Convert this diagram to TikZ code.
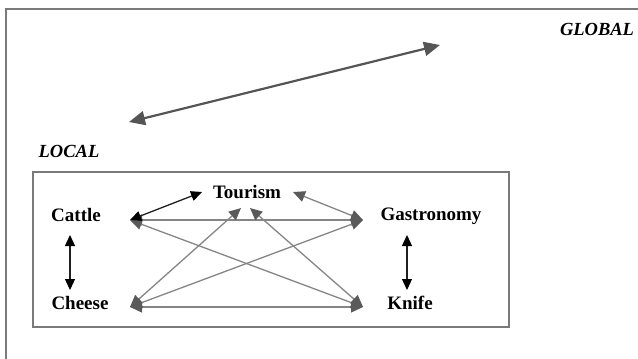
\documentclass[tikz,border=0pt]{standalone}
\usepackage{fontspec}
\setmainfont{Liberation Serif}
\usetikzlibrary{arrows.meta}
\definecolor{framegray}{HTML}{7A7A7A}
\definecolor{linegray}{HTML}{858585}
\definecolor{headgray}{HTML}{5A5A5A}
\definecolor{darkline}{HTML}{202020}
\definecolor{globalgray}{HTML}{555555}
\tikzset{
  frameline/.style={draw=framegray, line width=1.2pt},
  lbl/.style={font=\fontsize{19}{22}\selectfont\bfseries, anchor=base, inner sep=0pt},
  scopelbl/.style={font=\fontsize{18.5}{22}\selectfont\bfseries\itshape, anchor=base, inner sep=0pt},
  grayarrow/.style={draw=linegray, line width=1.3pt,
    {Triangle[length=12pt,width=11pt,color=headgray]}-{Triangle[length=12pt,width=11pt,color=headgray]}},
  blackarrow/.style={draw=darkline, line width=1.3pt,
    {Triangle[length=11pt,width=10pt,color=black]}-{Triangle[length=11pt,width=10pt,color=black]}},
  globalarrow/.style={draw=globalgray, line width=2.2pt,
    {Triangle[length=16pt,width=14pt]}-{Triangle[length=16pt,width=14pt]}}
}
\begin{document}
\begin{tikzpicture}[x=1pt,y=-1pt]
\useasboundingbox (0,0) rectangle (638,359);
% frames
\draw[frameline] (6,359) -- (6,9) -- (638,9);
\draw[frameline] (33,172) rectangle (509,327);
% scope labels
\node[scopelbl] (global) at (597,35) {GLOBAL};
\node[scopelbl] (local) at (69,157) {LOCAL};
% actors
\node[lbl] (cattle) at (76,221) {Cattle};
\node[lbl] (tourism) at (247,198) {Tourism};
\node[lbl] (gastro) at (431,220) {Gastronomy};
\node[lbl] (cheese) at (80,309) {Cheese};
\node[lbl] (knife) at (410,309) {Knife};
% ports
\coordinate (cattleP) at (130,220);
\coordinate (cheeseP) at (130,307);
\coordinate (gastroP) at (363,220);
\coordinate (knifeP) at (363,307);
\coordinate (tourL) at (202,192);
\coordinate (tourR) at (293,192);
\coordinate (tourB1) at (241,208);
\coordinate (tourB2) at (250,208);
\coordinate (cattleS) at (70,235);
\coordinate (cheeseN) at (70,290);
\coordinate (gastroS) at (407,235);
\coordinate (knifeN) at (407,290);
\coordinate (localG) at (129,122);
\coordinate (globalG) at (440,45);
% global-local
\draw[globalarrow] (localG) -- (globalG);
% gray relations
\draw[grayarrow] (cattleP) -- (gastroP);
\draw[grayarrow] (cheeseP) -- (knifeP);
\draw[grayarrow] (cattleP) -- (knifeP);
\draw[grayarrow] (cheeseP) -- (gastroP);
\draw[grayarrow] (cheeseP) -- (tourB1);
\draw[grayarrow] (knifeP) -- (tourB2);
\draw[grayarrow] (tourR) -- (gastroP);
% black relations
\draw[blackarrow] (cattleP) -- (tourL);
\draw[blackarrow] (cattleS) -- (cheeseN);
\draw[blackarrow] (gastroS) -- (knifeN);
\end{tikzpicture}
\end{document}
